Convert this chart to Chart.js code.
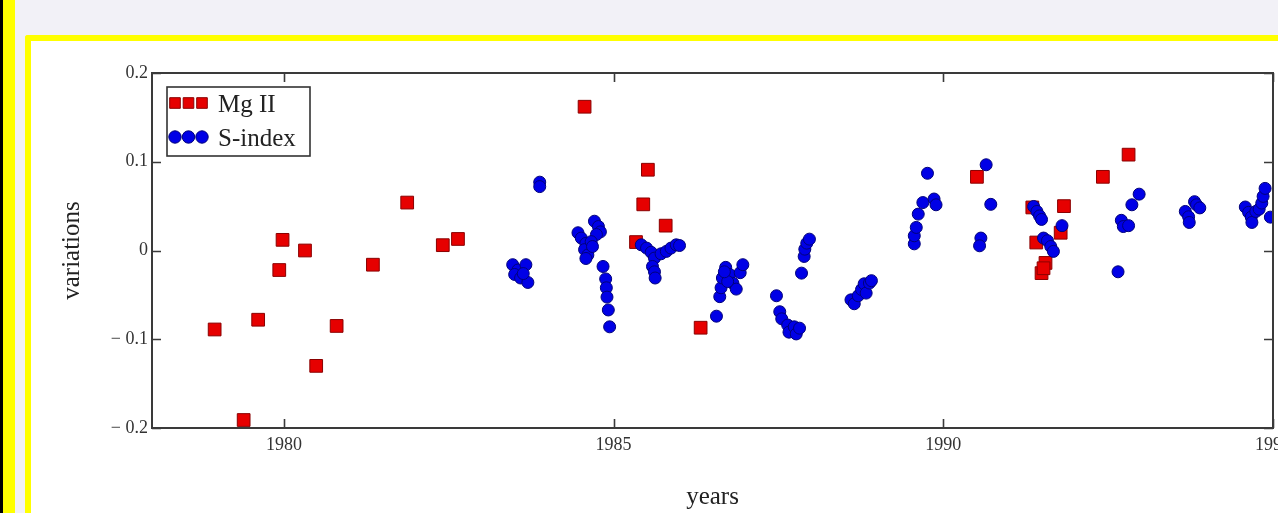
<!DOCTYPE html>
<html>
<head>
<meta charset="utf-8">
<script src="https://cdn.jsdelivr.net/npm/chart.js@4.4.1/dist/chart.umd.min.js"></script>
<style>
  html, body { margin: 0; padding: 0; }
  body { width: 1278px; height: 513px; overflow: hidden; background: #f2f1f7; position: relative; }
  #edge { position: absolute; left: 0; top: 0; width: 3px; height: 513px; background: #000; }
  #edge2 { position: absolute; left: 3px; top: 0; width: 12px; height: 513px; background: #ffff00; }
  #frame { position: absolute; left: 25px; top: 35px; width: 1300px; height: 600px; background: #fff;
           border-left: 6px solid #ffff00; border-top: 6px solid #ffff00; border-top-left-radius: 3px; }
  #chart { position: absolute; left: 0; top: 0; }
</style>
</head>
<body>
<div id="edge"></div><div id="edge2"></div><div id="frame"></div>
<canvas id="chart" width="1278" height="513"></canvas>
<script>
// Mg II (red squares)
const mgYears = [1978.95, 1979.39, 1979.61, 1979.93, 1979.98, 1980.32, 1980.49, 1980.80, 1981.35, 1981.87,
  1982.41, 1982.64, 1984.56, 1985.52, 1985.45, 1985.79, 1985.34, 1986.32, 1990.51, 1992.81,
  1992.42, 1991.83, 1991.35, 1991.41, 1991.78, 1991.55, 1991.49, 1991.52];
const mgValues = [-0.089, -0.191, -0.078, -0.022, 0.012, 0.0, -0.130, -0.085, -0.016, 0.054,
  0.006, 0.013, 0.162, 0.091, 0.052, 0.028, 0.0095, -0.087, 0.083, 0.108,
  0.083, 0.050, 0.0485, 0.009, 0.020, -0.014, -0.0255, -0.020];

// S-index (blue dots)
const sYears = [
  1983.47, 1983.55, 1983.67, 1983.50, 1983.59, 1983.70, 1983.63, 1983.88, 1983.88,
  1984.46, 1984.51, 1984.58, 1984.56, 1984.61, 1984.58, 1984.71, 1984.77, 1984.80, 1984.74, 1984.66, 1984.68,
  1984.84, 1984.88, 1984.89, 1984.90, 1984.92, 1984.94,
  1985.42, 1985.50, 1985.57, 1985.62, 1985.59, 1985.62, 1985.63, 1985.72, 1985.80, 1985.87, 1985.95, 1986.00,
  1986.56, 1986.61, 1986.63, 1986.65, 1986.70, 1986.76, 1986.81, 1986.86, 1986.92, 1986.96, 1986.73, 1986.68,
  1987.47, 1987.52, 1987.55, 1987.64, 1987.66, 1987.74, 1987.77, 1987.82,
  1987.85, 1987.89, 1987.90, 1987.93, 1987.97,
  1988.60, 1988.65, 1988.71, 1988.76, 1988.80, 1988.83, 1988.88, 1988.91,
  1989.56, 1989.56, 1989.59, 1989.62, 1989.69, 1989.76, 1989.86, 1989.89,
  1990.57, 1990.55, 1990.65, 1990.72,
  1991.37, 1991.42, 1991.46, 1991.49, 1991.52, 1991.58, 1991.63, 1991.67, 1991.80,
  1992.65, 1992.70, 1992.73, 1992.81, 1992.86, 1992.97,
  1993.67, 1993.72, 1993.73, 1993.81, 1993.84, 1993.89,
  1994.58, 1994.63, 1994.67, 1994.68, 1994.74, 1994.79, 1994.83, 1994.85, 1994.88, 1994.96];
const sValues = [
  -0.016, -0.022, -0.016, -0.027, -0.031, -0.036, -0.026, 0.077, 0.072,
  0.020, 0.014, 0.008, 0.001, -0.005, -0.009, 0.033, 0.027, 0.021, 0.018, 0.010, 0.0045,
  -0.018, -0.032, -0.042, -0.0525, -0.067, -0.086,
  0.0064, 0.0027, -0.002, -0.0086, -0.018, -0.024, -0.031, -0.0037, -0.001, 0.0027, 0.0064, 0.0056,
  -0.074, -0.052, -0.042, -0.031, -0.019, -0.027, -0.037, -0.0435, -0.025, -0.016, -0.035, -0.024,
  -0.051, -0.069, -0.077, -0.084, -0.092, -0.086, -0.094, -0.0875,
  -0.0255, -0.0067, 0.0015, 0.0083, 0.0128,
  -0.0556, -0.060, -0.051, -0.044, -0.0375, -0.048, -0.0367, -0.034,
  0.0075, 0.0166, 0.026, 0.041, 0.054, 0.087, 0.058, 0.0515,
  0.014, 0.0053, 0.0966, 0.052,
  0.0496, 0.044, 0.039, 0.035, 0.014, 0.011, 0.0045, -0.001, 0.028,
  -0.024, 0.034, 0.027, 0.028, 0.0515, 0.0635,
  0.044, 0.038, 0.0316, 0.055, 0.0515, 0.048,
  0.049, 0.043, 0.0376, 0.0316, 0.044, 0.0466, 0.0534, 0.061, 0.070, 0.0376];

const xTicks = [1980, 1985, 1990, 1995];
const yTicks = [-0.2, -0.1, 0, 0.1, 0.2];
const yTickLabels = ['\u2212 0.2', '\u2212 0.1', '0', '0.1', '0.2'];

const serif = '"Liberation Serif", "Times New Roman", serif';

function toPoints(xs, ys) {
  return xs.map((x, i) => ({ x: x, y: ys[i] }));
}

// box around the plot, inward tick marks on all four sides, and the legend box
const framePlugin = {
  id: 'frame',
  afterDatasetsDraw(chart) {
    const ctx = chart.ctx;
    const a = chart.chartArea;
    const xs = chart.scales.x, ys = chart.scales.y;
    ctx.save();
    ctx.strokeStyle = '#3a3a3a';
    ctx.lineWidth = 1.6;
    ctx.beginPath();
    xs.ticks.forEach(t => {
      const px = Math.round(xs.getPixelForValue(t.value)) + 0.5;
      ctx.moveTo(px, a.bottom); ctx.lineTo(px, a.bottom - 9);
      ctx.moveTo(px, a.top); ctx.lineTo(px, a.top + 9);
    });
    ys.ticks.forEach(t => {
      const py = Math.round(ys.getPixelForValue(t.value)) + 0.5;
      ctx.moveTo(a.left, py); ctx.lineTo(a.left + 9, py);
      ctx.moveTo(a.right, py); ctx.lineTo(a.right - 9, py);
    });
    ctx.stroke();
    ctx.lineWidth = 2;
    ctx.strokeRect(a.left, a.top, a.right - a.left, a.bottom - a.top);

    // legend
    const bx = 167, by = 87, bw = 143, bh = 69;
    ctx.fillStyle = '#fff';
    ctx.fillRect(bx, by, bw, bh);
    ctx.lineWidth = 1.6;
    ctx.strokeStyle = '#333';
    ctx.strokeRect(bx, by, bw, bh);
    const rows = [103, 137];
    chart.data.datasets.slice().sort((p, q) => p.legendRow - q.legendRow).forEach((ds, r) => {
      const cy = rows[r];
      for (let k = 0; k < 3; k++) {
        const cx = 175 + k * 13.5;
        ctx.fillStyle = ds.backgroundColor;
        ctx.strokeStyle = ds.borderColor;
        ctx.lineWidth = 1;
        ctx.beginPath();
        if (ds.pointStyle === 'rect') {
          ctx.rect(cx - 5.3, cy - 5.3, 10.6, 10.6);
        } else {
          ctx.arc(cx, cy, 6.2, 0, Math.PI * 2);
        }
        ctx.fill();
        ctx.stroke();
      }
      ctx.fillStyle = '#222';
      ctx.font = '25px ' + serif;
      ctx.textBaseline = 'alphabetic';
      ctx.fillText(ds.label, 218, cy + 9);
    });
    ctx.restore();
  }
};

new Chart(document.getElementById('chart'), {
  type: 'scatter',
  data: {
    datasets: [
      {
        label: 'S-index',
        legendRow: 2,
        order: 1,
        data: toPoints(sYears, sValues),
        pointStyle: 'circle',
        pointRadius: 6,
        backgroundColor: '#0000e6',
        borderColor: '#00007a',
        borderWidth: 1,
        clip: 0
      },
      {
        label: 'Mg II',
        legendRow: 1,
        order: 2,
        data: toPoints(mgYears, mgValues),
        pointStyle: 'rect',
        pointRadius: 9,
        backgroundColor: '#e60000',
        borderColor: '#8a0000',
        borderWidth: 1,
        clip: 0
      }
    ]
  },
  options: {
    responsive: false,
    animation: false,
    layout: { autoPadding: false, padding: { top: 73, right: 5, left: 0, bottom: 0 } },
    plugins: { legend: { display: false }, tooltip: { enabled: false } },
    scales: {
      x: {
        type: 'linear',
        min: 1978,
        max: 1995,
        afterBuildTicks: s => { s.ticks = xTicks.map(v => ({ value: v })); },
        afterFit: s => { s.height = 85; s.paddingLeft = 0; s.paddingRight = 0; },
        grid: { display: false, drawTicks: false },
        border: { display: false },
        ticks: {
          padding: 6,
          color: '#333',
          font: { family: serif, size: 18 },
          callback: v => String(v)
        },
        title: {
          display: true,
          text: 'years',
          color: '#222',
          font: { family: serif, size: 25 },
          padding: { top: 0, bottom: 1 }
        }
      },
      y: {
        type: 'linear',
        min: -0.2,
        max: 0.2,
        afterBuildTicks: s => { s.ticks = yTicks.map(v => ({ value: v })); },
        afterFit: s => { s.width = 152; s.paddingTop = 0; s.paddingBottom = 0; },
        grid: { display: false, drawTicks: false },
        border: { display: false },
        ticks: {
          padding: 4,
          color: '#333',
          font: { family: serif, size: 18 },
          callback: (v, i) => yTickLabels[i]
        },
        title: {
          display: true,
          text: 'variations',
          color: '#222',
          font: { family: serif, size: 25 },
          padding: { top: 57, bottom: 0 }
        }
      }
    }
  },
  plugins: [framePlugin]
});
</script>
</body>
</html>
